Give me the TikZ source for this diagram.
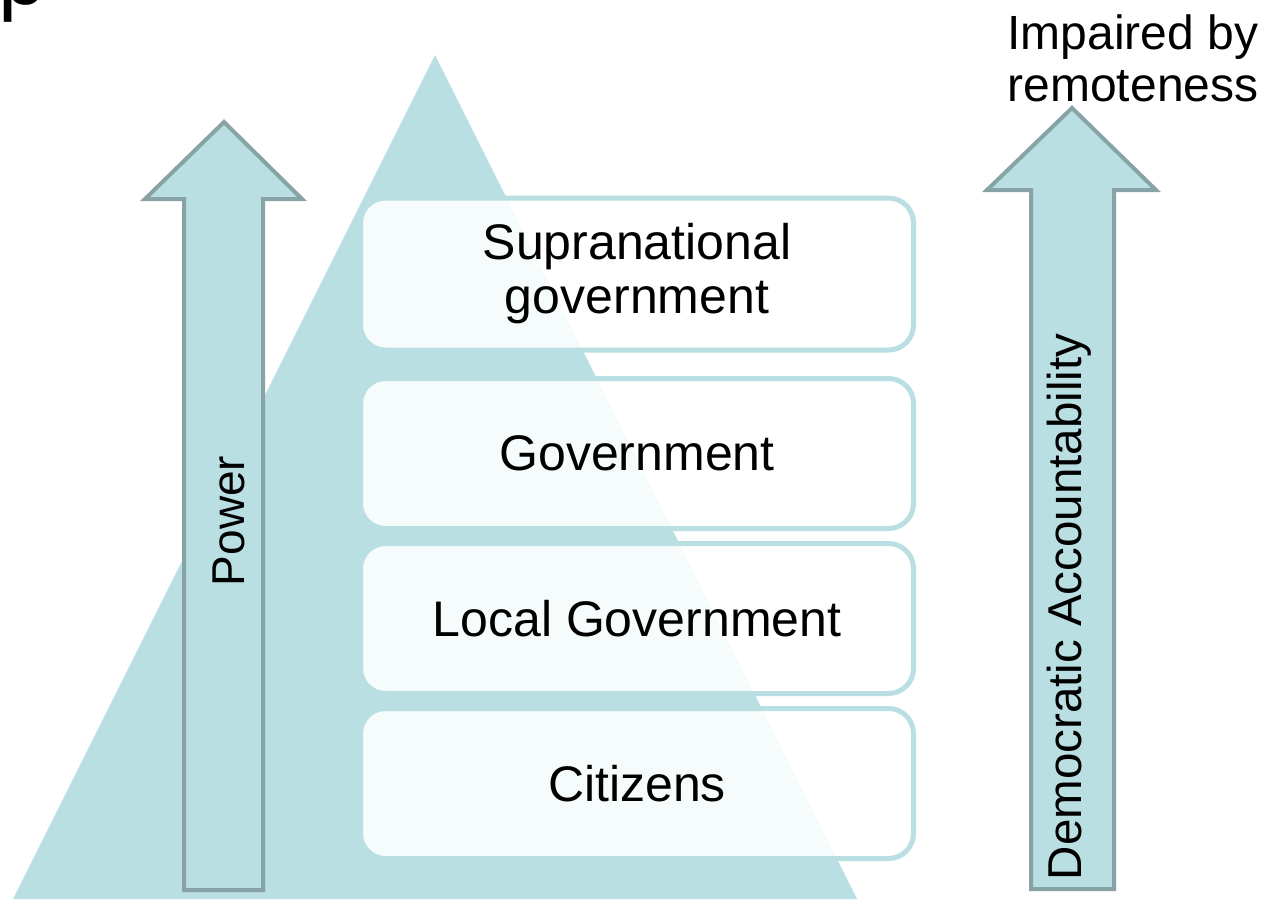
\documentclass[tikz,border=0pt]{standalone}
\usepackage{fontspec}
\setmainfont{Liberation Sans}
\definecolor{tri}{HTML}{B9DFE2}
\definecolor{arrline}{HTML}{87A3A5}
\tikzset{
  levelbox/.style={draw=tri, line width=5pt, fill=white, fill opacity=0.88, text opacity=1, rounded corners=25pt, minimum width=553pt, inner sep=0pt, align=center, font=\fontsize{50}{54}\selectfont},
  bigarrow/.style={draw=arrline, line width=4pt, fill=tri, line join=miter},
  lbl/.style={inner sep=0pt, align=center}
}
\begin{document}
\begin{tikzpicture}[x=1pt,y=-1pt]
\useasboundingbox (0,0) rectangle (1281,899);
\clip (0,0) rectangle (1281,899);
% title fragment
\node[anchor=base west, inner sep=0pt, font=\fontsize{86}{90}\selectfont] (title) at (-2,5) {p};
% pyramid
\fill[tri] (13,899) -- (435,55) -- (857,899) -- cycle;
% power arrow
\draw[bigarrow] (184,890) -- (184,199) -- (145,199) -- (224,122) -- (302,199) -- (263,199) -- (263,890) -- cycle;
\node[lbl, rotate=90, font=\fontsize{46}{50}\selectfont] (power) at (229,521) {Power};
% accountability arrow
\draw[bigarrow] (1031,889) -- (1031,190) -- (987,190) -- (1072,108) -- (1156,190) -- (1114,190) -- (1114,889) -- cycle;
\node[lbl, rotate=90, font=\fontsize{47.5}{50}\selectfont] (acc) at (1069,607) {Democratic Accountability};
\node[lbl, font=\fontsize{48}{52}\selectfont] (imp) at (1133,58) {Impaired by\\remoteness};
% boxes
\node[levelbox, minimum height=152pt] (sup) at (637,274) {Supranational\\government};
\node[levelbox, minimum height=150pt] (gov) at (637,453.5) {Government};
\node[levelbox, minimum height=150pt] (loc) at (637,618.5) {Local Government};
\node[levelbox, minimum height=150pt] (cit) at (637,783.5) {Citizens};
\end{tikzpicture}
\end{document}
